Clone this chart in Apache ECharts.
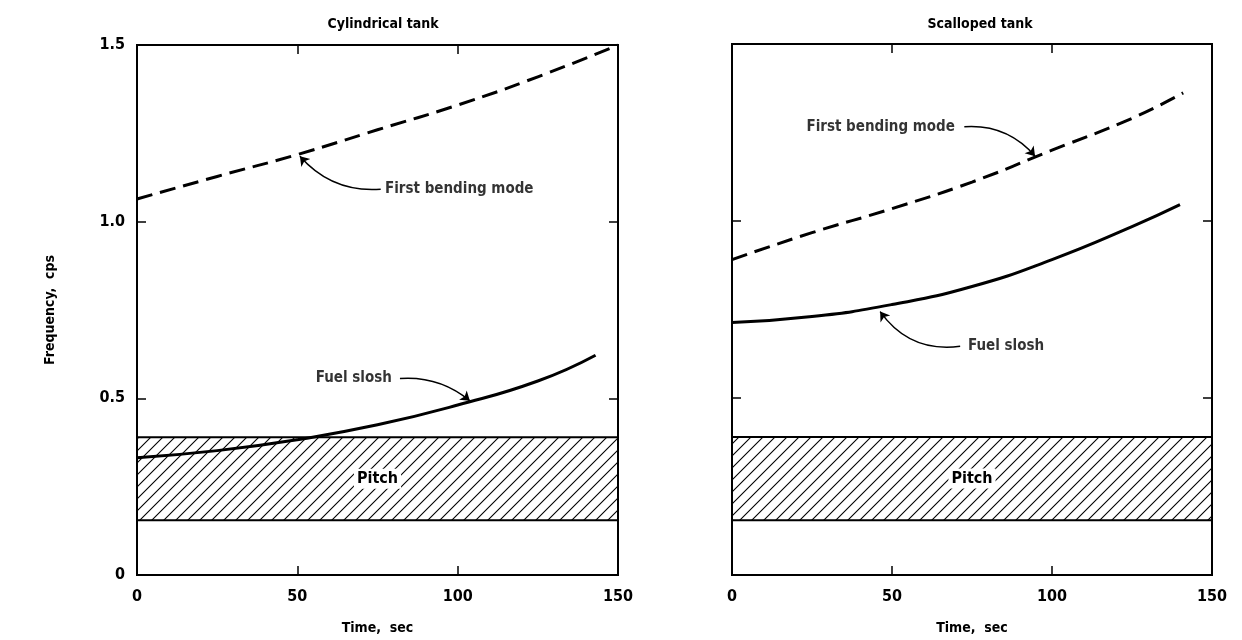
<!DOCTYPE html>
<html>
<head>
<meta charset="utf-8">
<script src="https://cdn.jsdelivr.net/npm/echarts@6/dist/echarts.min.js"></script>
<style>
  html, body { margin: 0; padding: 0; background: #fff; }
  #chart { width: 1242px; height: 640px; }
</style>
</head>
<body>
<div id="chart"></div>
<script>
// data (time in sec, frequency in cps)
const cylBending = [[0, 1.064], [25, 1.128], [50, 1.19], [75, 1.26], [100, 1.33], [125, 1.41], [150, 1.5]]
const cylSlosh = [[0, 0.332], [25, 0.352], [50, 0.383], [75, 0.425], [100, 0.481], [125, 0.549], [143, 0.622]]
const scaBending = [[0, 0.891], [25, 0.967], [50, 1.035], [75, 1.11], [100, 1.2], [125, 1.29], [141, 1.362]]
const scaSlosh = [[0, 0.713], [25, 0.73], [50, 0.764], [75, 0.815], [100, 0.891], [125, 0.984], [140, 1.046]]
const pitchBand = [0.155, 0.39]

// annotation text anchors and arrows, in data units
const cylNotes = [
  { name: 'First bending mode', value: [76.4, 1.092], pos: 'right' },
  { name: 'Fuel slosh', value: [80.4, 0.557], pos: 'left' }
]
const cylArrows = [
  [[76, 1.092], [50.8, 1.185]],
  [[82, 0.556], [103.8, 0.493]]
]
const scaNotes = [
  { name: 'First bending mode', value: [70.6, 1.266], pos: 'left' },
  { name: 'Fuel slosh', value: [72.8, 0.646], pos: 'right' }
]
const scaArrows = [
  [[72.6, 1.266], [94.7, 1.183]],
  [[71.3, 0.646], [46.3, 0.744]]
]

const font = 'DejaVu Sans Condensed'

function hatch() {
  const c = document.createElement('canvas')
  c.width = 12; c.height = 12
  const g = c.getContext('2d')
  g.strokeStyle = '#000'
  g.lineWidth = 1.1
  g.beginPath()
  g.moveTo(0, 12); g.lineTo(12, 0)
  g.moveTo(-6, 6); g.lineTo(6, -6)
  g.moveTo(6, 18); g.lineTo(18, 6)
  g.stroke()
  return c
}
const hatchFill = { image: hatch(), repeat: 'repeat' }

function xAx(grid, top, name) {
  return {
    type: 'value', gridIndex: grid, position: top ? 'top' : 'bottom',
    min: 0, max: 150, interval: 50,
    name: top ? '' : name, nameLocation: 'middle', nameGap: 46,
    nameTextStyle: { fontFamily: font, fontWeight: 'bold', fontSize: 14, color: '#000' },
    axisLine: { show: false, onZero: false },
    axisTick: { show: true, inside: true, length: 9, lineStyle: { color: '#000', width: 1.5 } },
    axisLabel: { show: !top, margin: 14, fontFamily: font, fontWeight: 'bold', fontSize: 16, color: '#000' },
    splitLine: { show: false }
  }
}
function yAx(grid, right, labels) {
  return {
    type: 'value', gridIndex: grid, position: right ? 'right' : 'left',
    min: 0, max: 1.5, interval: 0.5,
    name: labels ? 'Frequency,  cps' : '', nameLocation: 'middle', nameGap: 80,
    nameTextStyle: { fontFamily: font, fontWeight: 'bold', fontSize: 14, color: '#000' },
    axisLine: { show: false, onZero: false },
    axisTick: { show: true, inside: true, length: 9, lineStyle: { color: '#000', width: 1.5 } },
    axisLabel: {
      show: labels, margin: 12, fontFamily: font, fontWeight: 'bold', fontSize: 16, color: '#000',
      formatter: v => v === 0 ? '0' : v.toFixed(1)
    },
    splitLine: { show: false }
  }
}

function curve(data, xi, yi, dashed) {
  return {
    type: 'line', xAxisIndex: xi, yAxisIndex: yi, data: data,
    smooth: true, symbol: 'none', silent: true,
    lineStyle: { color: '#000', width: 3, type: dashed ? [16, 8] : 'solid' }
  }
}
function band(xi, yi) {
  return {
    type: 'line', xAxisIndex: xi, yAxisIndex: yi, data: [], silent: true,
    markArea: {
      silent: true,
      itemStyle: { color: hatchFill, borderColor: '#000', borderWidth: 2 },
      label: {
        show: true, position: 'inside', formatter: 'Pitch', backgroundColor: '#fff', padding: [2, 3],
        fontFamily: font, fontWeight: 'bold', fontSize: 16, color: '#000'
      },
      data: [[{ xAxis: 0, yAxis: pitchBand[0] }, { xAxis: 150, yAxis: pitchBand[1] }]]
    },
    z: 1
  }
}
function notes(data, xi, yi) {
  return {
    type: 'scatter', xAxisIndex: xi, yAxisIndex: yi, symbolSize: 0, silent: true,
    data: data.map(d => ({ name: d.name, value: d.value, label: { position: d.pos } })),
    label: {
      show: true, formatter: '{b}', distance: 3,
      fontFamily: font, fontWeight: 'bold', fontSize: 15, color: '#000'
    }
  }
}
function arrows(data, xi, yi, curv) {
  return {
    type: 'lines', coordinateSystem: 'cartesian2d', xAxisIndex: xi, yAxisIndex: yi, silent: true,
    symbol: ['none', 'arrow'], symbolSize: 9,
    data: data.map((c, i) => ({ coords: c, lineStyle: { curveness: curv[i] } })),
    lineStyle: { color: '#000', width: 1.5, opacity: 1 },
    z: 5
  }
}

const chart = echarts.init(document.getElementById('chart'))
chart.setOption({
  animation: false,
  backgroundColor: '#fff',
  title: [
    { text: 'Cylindrical tank', left: 378, top: 12, textAlign: 'center',
      textStyle: { fontFamily: font, fontWeight: 'bold', fontSize: 14, color: '#000' } },
    { text: 'Scalloped tank', left: 975, top: 12, textAlign: 'center',
      textStyle: { fontFamily: font, fontWeight: 'bold', fontSize: 14, color: '#000' } }
  ],
  grid: [
    { left: 137, right: 624, top: 45, bottom: 62, show: true, borderColor: '#000', borderWidth: 2 },
    { left: 732, right: 30, top: 44, bottom: 64, show: true, borderColor: '#000', borderWidth: 2 }
  ],
  xAxis: [xAx(0, false, 'Time,  sec'), xAx(0, true), xAx(1, false, 'Time,  sec'), xAx(1, true)],
  yAxis: [yAx(0, false, true), yAx(0, true, false), yAx(1, false, false), yAx(1, true, false)],
  series: [
    band(0, 0),
    curve(cylBending, 0, 0, true),
    curve(cylSlosh, 0, 0, false),
    notes(cylNotes, 0, 0),
    arrows(cylArrows, 0, 0, [0.25, 0.2]),
    band(2, 2),
    curve(scaBending, 2, 2, true),
    curve(scaSlosh, 2, 2, false),
    notes(scaNotes, 2, 2),
    arrows(scaArrows, 2, 2, [0.25, 0.3])
  ]
})
</script>
</body>
</html>
